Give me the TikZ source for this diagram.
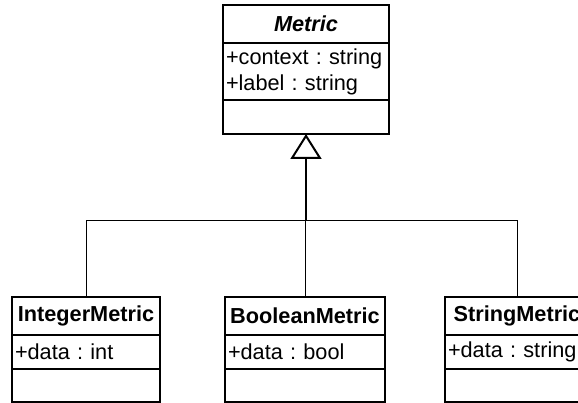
\documentclass[tikz,border=0pt]{standalone}
\usepackage{fontspec}
\setmainfont{Liberation Sans}
\frenchspacing
\usetikzlibrary{arrows.meta, positioning}

\begin{document}
\begin{tikzpicture}[x=1pt, y=-1pt]
      \tikzset{
  part/.style={
    rectangle, draw, line width=2pt, outer sep=0pt, inner ysep=0pt,
    font=\fontsize{21.7}{26}\selectfont
  },
  head/.style ={part, inner xsep=0pt, minimum height=38pt, font=\fontsize{21.7}{26}\selectfont\bfseries},
  attrs/.style={part, inner xsep=3pt, align=left},
  ops/.style  ={part, inner xsep=0pt},
  inherit/.style={-{Triangle[open, length=25pt, width=31pt]}, line width=2pt},
  link/.style={line width=1pt},
}

\clip (0,0) rectangle (578,403);

%% ---- BASE CLASS ----
\node[head, minimum width=166pt] (metric) at (306,24) {\itshape Metric};
\node[attrs, minimum height=57pt, text width=160pt, below=0pt of metric] (metricattr)
  {+context : string\\+label : string};
\node[ops, minimum width=166pt, minimum height=34pt, below=0pt of metricattr] (metricops) {};

%% ---- SUBCLASSES ----
\node[head, minimum width=148pt] (intmetric) at (86,316) {IntegerMetric};
\node[attrs, minimum height=34pt, text width=142pt, below=0pt of intmetric] (intattr) {+data : int};
\node[ops, minimum width=148pt, minimum height=33pt, below=0pt of intattr] (intops) {};

\node[head, minimum width=160pt] (boolmetric) at (305,316) {BooleanMetric};
\node[attrs, minimum height=34pt, text width=154pt, below=0pt of boolmetric] (boolattr) {+data : bool};
\node[ops, minimum width=160pt, minimum height=33pt, below=0pt of boolattr] (boolops) {};

\node[head, minimum width=144pt] (strmetric) at (517,316) {StringMetric};
\node[attrs, minimum height=34pt, text width=138pt, below=0pt of strmetric] (strattr) {+data : string};
\node[ops, minimum width=144pt, minimum height=33pt, below=0pt of strattr] (strops) {};

%% ---- GENERALIZATION ----
\coordinate (joint) at (metricops.south |- 0,221);
\draw[inherit] (joint) -- (metricops.south);
\draw[link] (intmetric.north)
  -- (intmetric.north |- joint)
  -- (strmetric.north |- joint)
  -- (strmetric.north);
\draw[link] (boolmetric.north) -- (boolmetric.north |- joint);

    \end{tikzpicture}
\end{document}
